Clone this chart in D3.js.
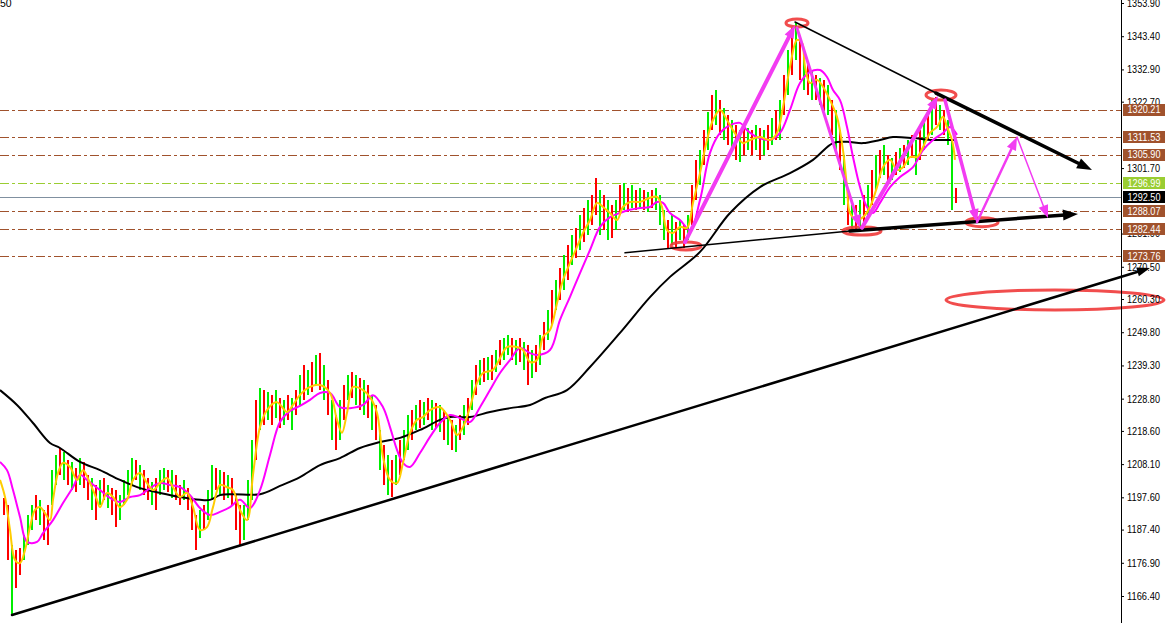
<!DOCTYPE html>
<html><head><meta charset="utf-8">
<script src="https://cdn.jsdelivr.net/npm/d3@7"></script>
<style>html,body{margin:0;padding:0;background:#fff;overflow:hidden}text{font-family:"Liberation Sans",Arial,sans-serif}</style>
</head><body><svg id="c" width="1166" height="623"></svg>
<script>
// ---- bar data (one entry per bar, index 0..238) ----
const highs = [
1197.4,1195.2,1182.5,1180.9,1181.6,1185.7,1192.0,1195.2,1198.3,1196.8,
1193.6,1195.2,1206.2,1211.0,1213.2,1211.9,1209.4,1208.8,1206.9,1210.0,
1208.8,1204.7,1203.7,1201.5,1203.1,1203.7,1201.5,1200.5,1199.9,1198.3,
1203.1,1206.2,1210.0,1209.4,1207.8,1206.2,1203.7,1202.4,1203.7,1206.2,
1206.9,1206.2,1206.2,1204.7,1201.5,1203.1,1200.5,1196.8,1192.0,1193.6,
1195.2,1199.9,1207.8,1206.9,1206.2,1205.6,1204.7,1203.7,1198.3,1195.2,
1195.2,1203.1,1215.7,1228.4,1232.2,1231.5,1230.9,1229.9,1231.5,1229.0,
1228.4,1229.9,1229.0,1231.5,1236.3,1239.4,1237.9,1240.4,1242.6,1243.2,
1239.4,1234.7,1228.4,1223.6,1228.4,1233.1,1236.3,1237.2,1236.3,1235.3,
1234.7,1233.1,1229.9,1226.8,1218.9,1214.1,1211.0,1209.4,1211.0,1215.7,
1218.9,1223.6,1225.2,1226.8,1228.4,1227.7,1229.0,1228.4,1227.4,1226.8,
1225.2,1223.6,1222.1,1220.5,1223.6,1226.8,1229.0,1234.7,1239.4,1241.0,
1241.6,1242.0,1242.6,1244.2,1247.3,1248.0,1248.9,1248.0,1247.3,1248.0,
1246.7,1245.8,1244.2,1245.8,1248.9,1253.0,1256.8,1263.2,1266.3,1270.1,
1274.2,1277.4,1280.5,1282.8,1286.9,1289.1,1291.6,1293.2,1298.6,1294.8,
1293.2,1291.6,1290.0,1291.6,1296.3,1297.0,1295.4,1296.3,1294.8,1295.4,
1294.8,1294.1,1294.8,1295.4,1293.2,1288.5,1285.3,1286.9,1284.7,1285.3,
1283.7,1286.9,1296.3,1304.3,1307.4,1313.7,1319.4,1324.8,1326.4,1323.2,
1320.7,1318.5,1316.9,1315.3,1313.7,1315.3,1314.4,1313.7,1315.3,1314.4,
1313.7,1315.3,1317.5,1320.1,1323.2,1331.1,1339.0,1346.0,1347.9,1342.2,
1337.5,1334.3,1332.7,1331.1,1330.2,1329.6,1328.0,1323.2,1320.1,1313.7,
1305.8,1293.2,1290.0,1290.0,1291.6,1293.2,1296.3,1301.1,1305.8,1307.4,
1309.0,1305.8,1304.9,1306.8,1308.0,1309.0,1310.6,1312.2,1310.6,1313.7,
1317.5,1320.1,1323.2,1324.2,1321.6,1320.1,1316.9,1310.6,1295.4];
const lows = [
1192.0,1177.8,1160.6,1168.9,1173.0,1177.8,1182.5,1187.3,1190.4,1188.8,
1184.1,1182.5,1195.2,1201.5,1204.7,1203.1,1201.5,1199.9,1199.3,1201.5,
1200.5,1196.8,1193.6,1190.4,1195.2,1196.8,1194.2,1192.0,1188.2,1190.4,
1195.2,1198.3,1201.5,1203.1,1199.9,1198.3,1196.8,1195.2,1193.6,1198.3,
1199.9,1199.3,1197.4,1196.8,1195.2,1196.8,1193.6,1187.3,1180.9,1184.7,
1187.3,1190.4,1196.8,1199.9,1198.3,1196.8,1197.4,1195.2,1187.3,1182.5,
1184.1,1190.4,1196.8,1209.4,1218.9,1220.5,1222.1,1220.5,1222.7,1219.5,
1220.5,1222.1,1218.9,1223.6,1226.8,1228.4,1229.9,1230.9,1233.1,1231.5,
1228.4,1223.6,1215.7,1212.6,1215.7,1222.1,1228.4,1229.0,1226.8,1225.2,
1223.6,1222.7,1218.9,1215.7,1206.2,1201.5,1198.3,1197.7,1201.5,1204.7,
1209.4,1212.6,1215.7,1218.9,1219.5,1220.5,1222.1,1218.9,1219.5,1218.3,
1215.7,1214.1,1212.6,1211.9,1215.7,1217.3,1220.5,1225.2,1229.9,1233.1,
1234.1,1234.7,1234.7,1237.2,1239.4,1241.0,1242.6,1241.0,1239.4,1240.4,
1237.9,1233.1,1235.3,1237.2,1239.4,1244.2,1247.3,1252.1,1256.8,1260.0,
1263.2,1266.3,1271.1,1273.3,1275.8,1278.3,1280.5,1283.7,1286.9,1280.5,
1282.1,1279.0,1279.6,1282.1,1286.9,1288.5,1287.8,1289.1,1288.5,1289.1,
1288.5,1287.8,1289.1,1288.5,1283.7,1279.0,1276.4,1277.4,1276.4,1279.0,
1276.4,1279.0,1283.7,1291.6,1296.3,1302.7,1307.4,1313.7,1315.3,1312.2,
1310.6,1309.0,1307.4,1304.3,1303.6,1305.8,1307.4,1305.8,1307.4,1304.3,
1305.8,1307.4,1309.0,1310.6,1310.6,1318.5,1324.8,1331.1,1335.9,1329.6,
1326.4,1324.8,1323.2,1323.2,1321.6,1320.1,1318.5,1312.2,1307.4,1301.1,
1290.0,1283.7,1282.1,1281.5,1282.8,1284.7,1286.9,1290.0,1294.8,1298.6,
1299.5,1296.3,1297.9,1299.5,1300.5,1301.7,1302.7,1304.9,1299.5,1304.3,
1307.4,1310.6,1312.2,1315.3,1313.7,1312.2,1309.0,1288.5,1290.7];
const dirs = "RRGRRGGGRG"+"RRGGRGRGRG"+"RRGRGRGRRG"+"GGGRGRRGRG"+"GRGRRGRRRG"+"RGGRGRGRRR"+
"GGGRGRGRGR"+"GRGRGRGRGR"+"GRGRGRGRGR"+"GRGRGRGRGR"+"GGRGRGRGRG"+"RGRGRGRGRG"+
"RGRGRGGRGR"+"GRGRGRGRGR"+"GRGRGRGRRG"+"RGRGRGRGRG"+"RGRGGGRGRG"+"RGRRGRGRGR"+
"GRGRGRGRGR"+"GRGRGRGRGR"+"GRGRGRGRGR"+"GRGRGRGRGR"+"GRGRGRGRGR"+"GRGRGRGGR";

// ---- moving averages as [barIndex, price] ----
const maFast = [[-1,1203.1],[0.25,1197.7],[1.5,1187.3],[2.75,1177.8],[4,1176.8],[5.25,1180.9],[6.5,1188.2],[7.75,1193.6],[9,1194.5],[10.25,1192.6],[11.5,1190.4],[12.25,1196.8],[13.5,1205.3],[14.75,1208.5],[16.5,1207.2],[18.25,1203.1],[19.75,1206.2],[21.5,1202.1],[23.25,1196.8],[24,1194.5],[25.75,1199.0],[27.25,1197.7],[29,1194.5],[30.75,1196.8],[32.25,1203.1],[34,1205.3],[35.75,1202.1],[37.25,1199.9],[39,1202.1],[40.75,1203.7],[42.25,1200.8],[44,1197.7],[45.75,1199.0],[47.25,1194.5],[49,1187.3],[50.75,1188.2],[52.25,1194.5],[54,1201.5],[55.75,1200.8],[57.25,1199.9],[59,1193.6],[60.75,1190.4],[62.25,1204.7],[64,1219.8],[65.75,1225.2],[68.25,1227.7],[70.75,1224.6],[72.25,1226.8],[74,1230.0],[76.5,1232.5],[79,1233.1],[81.5,1230.6],[83.25,1222.1],[84.5,1218.0],[85.75,1224.3],[87.25,1232.5],[89.75,1231.5],[91.5,1229.3],[93.25,1224.3],[94.75,1210.4],[96.5,1203.1],[98.25,1202.1],[99.75,1208.5],[101.5,1217.9],[103.25,1222.1],[104.75,1223.0],[106.5,1225.2],[109,1226.1],[111.5,1222.1],[113.25,1217.3],[114.75,1219.8],[116.5,1226.1],[118.25,1233.7],[119.75,1236.9],[122.25,1237.9],[124,1241.6],[125.75,1245.1],[128.25,1245.1],[129.75,1244.2],[131.5,1240.4],[133.25,1241.0],[134.75,1248.3],[136.5,1250.5],[138.25,1259.0],[139.75,1266.3],[141.5,1271.7],[143.25,1276.8],[144.75,1281.2],[146.5,1285.3],[148.25,1290.7],[149.75,1289.4],[151.5,1287.5],[153.25,1285.3],[154.75,1289.4],[156.5,1291.0],[159,1291.0],[161.5,1292.3],[163.25,1292.6],[164.5,1289.4],[165.75,1282.1],[167.25,1281.2],[169,1283.1],[170.75,1282.8],[172.25,1290.7],[174,1300.1],[175.75,1310.6],[177.25,1316.9],[179,1320.1],[180.75,1316.9],[182.25,1313.7],[184.75,1309.6],[186.5,1310.6],[189,1311.5],[191.5,1310.6],[193.25,1312.8],[194.75,1321.0],[196.5,1333.7],[198.25,1342.2],[199.5,1341.3],[200.25,1333.7],[201.5,1328.6],[203.25,1329.6],[204.75,1327.4],[206.5,1323.2],[208.25,1317.9],[209.75,1307.4],[210.75,1295.7],[211.5,1287.5],[213.25,1285.3],[214.75,1286.2],[216.5,1289.4],[218.25,1295.7],[219.75,1302.0],[221.5,1304.3],[223.25,1301.1],[224.75,1302.0],[226.5,1305.2],[228.25,1305.2],[229.75,1308.3],[231.5,1312.8],[233.25,1314.7],[234.75,1317.9],[235.75,1314.7],[237,1310.6],[237.75,1304.3]];
const maMid = [[-1,1208.8],[0.75,1206.2],[2.25,1199.9],[4,1191.4],[5.75,1183.5],[8.25,1183.5],[9.75,1186.3],[12.25,1190.4],[14.75,1195.8],[17.25,1200.8],[19,1204.7],[20.75,1203.1],[24,1199.9],[26.5,1197.4],[29,1196.1],[31.5,1197.7],[34,1198.3],[36.5,1200.5],[39,1202.1],[41.5,1201.5],[44,1200.8],[46.5,1198.3],[49,1194.2],[51.5,1192.0],[54,1193.0],[56.5,1194.5],[59,1196.8],[61.5,1194.2],[64,1199.9],[66.5,1211.0],[69,1221.4],[71.5,1224.9],[74,1226.5],[76.5,1228.4],[79,1230.6],[81.5,1230.6],[84,1226.1],[86.5,1225.8],[89.75,1226.8],[92.25,1229.9],[94.75,1226.1],[96.5,1219.8],[98.25,1212.6],[99.75,1208.5],[101.5,1207.2],[104,1211.6],[106.5,1216.7],[109,1221.1],[111.5,1223.6],[114,1222.7],[116.5,1221.4],[119,1226.1],[121.5,1231.5],[124,1236.9],[126.5,1241.0],[129,1244.8],[131.5,1243.2],[133.25,1242.6],[136.5,1244.2],[139,1253.7],[141.5,1261.0],[144,1268.5],[146.5,1275.8],[149,1283.1],[151.5,1286.2],[154,1287.5],[156.5,1288.5],[159,1289.1],[161.5,1289.4],[163.25,1291.0],[164.75,1290.7],[166.5,1287.5],[169,1285.3],[171.5,1282.1],[174,1291.6],[176.5,1306.5],[179,1312.8],[181.5,1315.3],[184,1316.0],[185.75,1313.7],[188.25,1311.5],[191.5,1310.6],[194,1312.8],[196.5,1320.1],[199,1328.6],[201.5,1332.1],[204,1332.7],[205.75,1330.5],[207.25,1326.4],[209,1323.2],[210.75,1314.7],[212.25,1305.2],[214,1295.7],[215.75,1289.4],[217.25,1287.5],[219,1290.7],[221.5,1295.7],[224,1298.9],[227.25,1302.0],[229.75,1307.4],[232.25,1310.6],[234.75,1312.8],[236.5,1314.7],[238.25,1312.2]];
const maSlow = [[-1,1231.5],[3.25,1226.8],[7.25,1221.1],[11.5,1214.8],[14,1213.2],[19,1208.8],[24,1206.2],[29,1203.1],[34,1200.5],[39,1199.0],[44,1197.7],[49,1196.8],[51.5,1196.8],[54,1198.3],[57.25,1198.6],[64,1198.6],[69,1201.2],[74,1204.0],[79,1207.8],[84,1210.0],[89,1213.2],[94,1215.1],[99,1216.4],[104,1218.9],[109,1222.1],[111.5,1223.0],[116.5,1223.0],[121.5,1224.6],[126.5,1225.8],[131.5,1226.8],[135.25,1229.0],[140.75,1231.5],[146.5,1238.8],[154,1249.6],[161.5,1260.9],[166.5,1267.3],[174,1275.2],[181.5,1287.5],[189,1295.7],[196.5,1300.1],[202.25,1304.3],[207.25,1309.6],[210.75,1310.0],[214.75,1309.6],[219,1310.6],[222.25,1311.5],[227.25,1311.2],[232.25,1310.6],[238.25,1310.6]];

// ---- axis ticks and price levels ----
const tickValues = [1353.90,1343.40,1332.90,1322.70,1301.70,1281.00,1270.50,1260.30,1249.80,1239.30,1228.80,1218.60,1208.10,1197.60,1187.40,1176.90,1166.40];
const levelPrices = [1320.21,1311.53,1305.90,1296.99,1288.07,1282.44,1273.76];
const levelKinds  = ["brown","brown","brown","green","brown","brown","brown"];
const bidPrice = 1292.50;

// ---- drawing objects: [barIndex, price] anchors ----
const trendLong = [[2,1160.4],[286.5,1270.1]];
const resistThin = [[197.75,1347.9],[234,1324.8]];
const resistArrow = [[233,1325.4],[272,1301.1]];
const supportThin = [[155.25,1274.9],[211.5,1281.8]];
const supportArrow = [[211.5,1281.8],[268.5,1287.2]];
const pinkArrows = [
  [[170.25,1278.3],[197.75,1346.9]],
  [[198.25,1346.0],[214,1282.8]],
  [[214.5,1282.8],[233.5,1324.5]],
  [[235.25,1323.2],[243.25,1284.6]],
  [[243.25,1284.6],[253.25,1311.5]],
  [[253.25,1311.5],[261,1285.9]]
];
const circleCenters = [[198.25,1347.6],[234.25,1324.8],[170.5,1277.1],[214.5,1281.8],[244.5,1284.6],[262.75,1260.0]];

// ---- styles ----
const circleSizes = [[11,4],[15,5],[15,4],[19,4],[16,4.5],[109,10]];
const pinkWidths = [4,3,4,3.5,2.5,1.5];
const levelColor = {brown:"#a0522d", green:"#9acd32"};

const W = 1166, H = 623, axisX = 1121;
const svg = d3.select("#c");
const x = d3.scaleLinear().domain([0, 1]).range([4, 8]);
const y = d3.scaleLinear().domain([1166.4, 1353.9]).range([596, 3]);

svg.append("rect").attr("width", W).attr("height", H).attr("fill", "#fff");
const defs = svg.append("defs");
defs.append("clipPath").attr("id","plot").append("rect").attr("x",0).attr("y",0).attr("width",axisX).attr("height",H);

const plot = svg.append("g").attr("clip-path","url(#plot)");

// level lines
levelPrices.forEach((p,k) => {
  plot.append("line").attr("x1",0).attr("x2",axisX).attr("y1",Math.round(y(p))+0.5).attr("y2",Math.round(y(p))+0.5)
    .attr("stroke", levelColor[levelKinds[k]]).attr("stroke-width",1).attr("stroke-dasharray","9,3,3,3");
});
plot.append("line").attr("x1",0).attr("x2",axisX).attr("y1",Math.round(y(bidPrice))+0.5).attr("y2",Math.round(y(bidPrice))+0.5)
  .attr("stroke","#8090a0").attr("stroke-width",1);

// bars
const idx = d3.range(highs.length);
plot.append("g").selectAll("rect").data(idx).join("rect")
  .attr("x", i => x(i) - 1).attr("width", 2)
  .attr("y", i => y(highs[i])).attr("height", i => Math.max(1, y(lows[i]) - y(highs[i])))
  .attr("fill", i => dirs[i] === "G" ? "#00ee00" : "#ff0000")
  .attr("shape-rendering","crispEdges");

// moving averages
const line = d3.line().x(d => x(d[0])).y(d => y(d[1])).curve(d3.curveCatmullRom.alpha(0.5));
plot.append("path").attr("d", line(maSlow)).attr("fill","none").attr("stroke","#000").attr("stroke-width",2);
plot.append("path").attr("d", line(maMid)).attr("fill","none").attr("stroke","#ff00ff").attr("stroke-width",2);
plot.append("path").attr("d", line(maFast)).attr("fill","none").attr("stroke","#ffcc00").attr("stroke-width",2);

// objects layer (not clipped: arrows may cross into the scale area)
const obj = svg.append("g");
function seg(g, a, b, color, w) {
  g.append("line").attr("x1", x(a[0])).attr("y1", y(a[1])).attr("x2", x(b[0])).attr("y2", y(b[1]))
    .attr("stroke", color).attr("stroke-width", w).attr("stroke-linecap","round");
}
function arrow(g, a, b, color, w, hl, hw) {
  const x0 = x(a[0]), y0 = y(a[1]), x1 = x(b[0]), y1 = y(b[1]);
  const dx = x1 - x0, dy = y1 - y0, len = Math.hypot(dx, dy), ux = dx/len, uy = dy/len;
  const bx = x1 - ux*hl, by = y1 - uy*hl;
  g.append("line").attr("x1",x0).attr("y1",y0).attr("x2",bx+ux*2).attr("y2",by+uy*2)
    .attr("stroke",color).attr("stroke-width",w).attr("stroke-linecap","round");
  g.append("polygon").attr("points", [[x1,y1],[bx - uy*hw/2, by + ux*hw/2],[bx + uy*hw/2, by - ux*hw/2]].map(p=>p.join(",")).join(" "))
    .attr("fill", color);
}

// ellipses
circleCenters.forEach((c,k) => {
  obj.append("ellipse").attr("cx", x(c[0])).attr("cy", y(c[1])).attr("rx", circleSizes[k][0]).attr("ry", circleSizes[k][1])
    .attr("fill","none").attr("stroke","#f03a3a").attr("stroke-width",3).attr("stroke-opacity",0.9);
});

// black trend lines
arrow(obj, trendLong[0], trendLong[1], "#000", 2.5, 13, 9);
seg(obj, resistThin[0], resistThin[1], "#000", 1.5);
arrow(obj, resistArrow[0], resistArrow[1], "#000", 3.5, 15, 11);
seg(obj, supportThin[0], supportThin[1], "#000", 1.5);
arrow(obj, supportArrow[0], supportArrow[1], "#000", 3.5, 15, 11);

// magenta arrows
pinkArrows.forEach((a,k) => arrow(obj, a[0], a[1], "#f23cf2", pinkWidths[k], 13, 10));

// right price scale
const ax = svg.append("g").attr("transform", `translate(${axisX},0)`);
ax.call(d3.axisRight(y).tickValues(tickValues).tickSize(3).tickSizeOuter(0).tickFormat(d3.format(".2f")));
ax.select(".domain").remove();
ax.selectAll(".tick line").attr("stroke","#000");
ax.selectAll(".tick text").attr("x", 6).attr("font-size", 10.5).attr("fill","#000")
  .attr("font-family","'Liberation Sans',Arial,sans-serif").attr("textLength", 33).attr("lengthAdjust","spacingAndGlyphs");
svg.append("line").attr("x1", axisX+0.5).attr("x2", axisX+0.5).attr("y1",0).attr("y2",H).attr("stroke","#000").attr("stroke-width",1);

// level labels
const labelData = levelPrices.map((p,k) => ({p, c: levelColor[levelKinds[k]]})).concat([{p: bidPrice, c: "#000"}]);
const lab = svg.append("g");
labelData.forEach(d => {
  const cy = y(d.p);
  lab.append("rect").attr("x", axisX+2).attr("y", Math.round(cy) - 6).attr("width", 42).attr("height", 12).attr("fill", d.c);
  lab.append("text").attr("x", axisX+23).attr("y", cy).attr("dy","0.35em").attr("text-anchor","middle")
    .attr("font-size",10.5).attr("fill","#fff").attr("textLength",33).attr("lengthAdjust","spacingAndGlyphs")
    .text(d3.format(".2f")(d.p));
});

// clipped label in the top-left corner
svg.append("text").attr("x", 0).attr("y", 3).attr("dy","0.35em").attr("font-size",10.5).attr("fill","#000").text("50");
</script>
</body></html>
